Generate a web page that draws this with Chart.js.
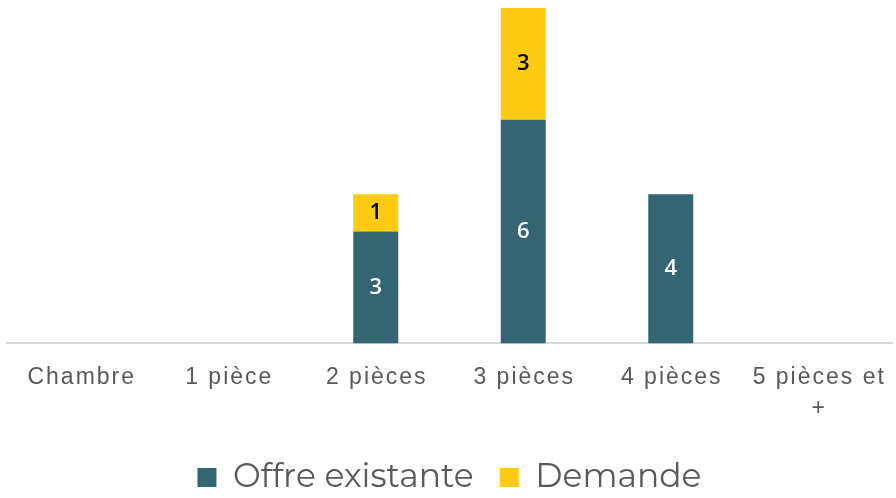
<!DOCTYPE html>
<html>
<head>
<meta charset="utf-8">
<script src="https://cdn.jsdelivr.net/npm/chart.js@4.4.1/dist/chart.umd.min.js"></script>
<style>
  html, body { margin: 0; padding: 0; background: #fff; }
  #wrap { width: 896px; height: 498px; }
</style>
</head>
<body>
<div id="wrap"><canvas id="roomChart"></canvas></div>
<script>
// catégories et valeurs
const categories = ['Chambre', '1 pièce', '2 pièces', '3 pièces', '4 pièces', ['5 pièces et', '+']];
const offreExistante = [0, 0, 3, 6, 4, 0];
const demande = [0, 0, 1, 3, 0, 0];

const tickFont = '23px "Liberation Sans", sans-serif';

// petit plugin maison : valeurs au centre des barres + libellés espacés sous l'axe
const barValues = {
    id: 'barValues',
    afterDatasetsDraw(chart) {
        const ctx = chart.ctx;
        ctx.save();
        ctx.textAlign = 'center';
        ctx.textBaseline = 'middle';
        ctx.font = '600 22px "Open Sans", sans-serif';
        chart.data.datasets.forEach((ds, i) => {
            const meta = chart.getDatasetMeta(i);
            meta.data.forEach((bar, j) => {
                const v = ds.data[j];
                if (!v) return;
                const mid = (bar.y + bar.base) / 2;
                ctx.fillStyle = i === 0 ? '#ffffff' : '#000000';
                ctx.fillText(v, bar.x, mid);
            });
        });

        // libellés de l'axe x (la police d'origine est très espacée)
        const xScale = chart.scales.x;
        ctx.font = tickFont;
        ctx.fillStyle = '#595959';
        ctx.letterSpacing = '2px';
        categories.forEach((lab, k) => {
            const x = xScale.getPixelForTick(k) + 1;
            const lines = Array.isArray(lab) ? lab : [lab];
            lines.forEach((line, n) => {
                ctx.fillText(line, x, xScale.top + 34 + n * 31);
            });
        });
        ctx.restore();
    }
};

const ctx = document.getElementById('roomChart').getContext('2d');
new Chart(ctx, {
    type: 'bar',
    data: {
        labels: categories,
        datasets: [
            {
                label: 'Offre existante',
                data: offreExistante,
                backgroundColor: '#336573',
                barPercentage: 0.305,
                categoryPercentage: 1
            },
            {
                label: 'Demande',
                data: demande,
                backgroundColor: '#FFCA12',
                barPercentage: 0.305,
                categoryPercentage: 1
            }
        ]
    },
    options: {
        responsive: true,
        maintainAspectRatio: false,
        animation: false,
        layout: {
            padding: { top: 8, left: 7, right: 4, bottom: -6 }
        },
        plugins: {
            legend: {
                position: 'bottom',
                labels: {
                    boxWidth: 19,
                    boxHeight: 19,
                    padding: 26,
                    color: '#595959',
                    font: { family: 'Montserrat, "Open Sans", sans-serif', size: 33 }
                }
            },
            tooltip: { enabled: false }
        },
        scales: {
            x: {
                stacked: true,
                grid: { display: false },
                border: { color: '#d9d9d9', width: 2 },
                ticks: {
                    color: 'rgba(0,0,0,0)',
                    padding: 11,
                    maxRotation: 0,
                    autoSkip: false,
                    font: { family: '"Liberation Sans", sans-serif', size: 22, lineHeight: 1.4 }
                }
            },
            y: {
                stacked: true,
                display: false,
                min: 0,
                max: 9
            }
        }
    },
    plugins: [barValues]
});
</script>
</body>
</html>
